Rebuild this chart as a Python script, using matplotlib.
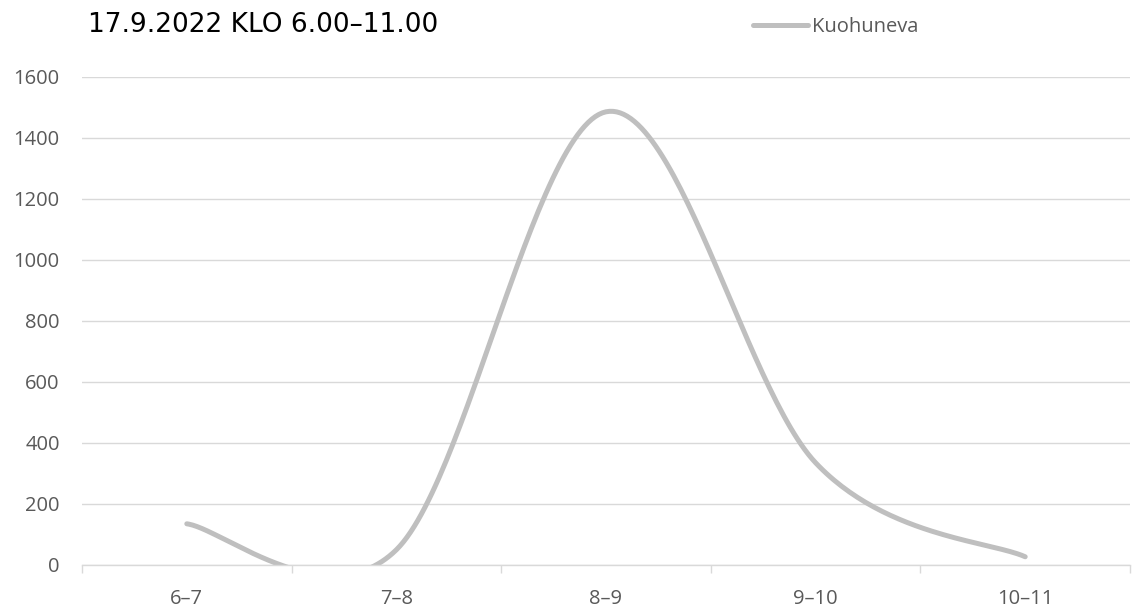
import numpy as np
from matplotlib import pyplot as plt

# Hourly counts at Kuohuneva, 17.9.2022
HOURS = ["6–7", "7–8", "8–9", "9–10", "10–11"]
KUOHUNEVA = [135, 50, 1485, 335, 27]

LINE_COLOUR = "#BFBFBF"
GRID_COLOUR = "#D9D9D9"
TEXT_COLOUR = "#595959"


def smooth_line(x, y, steps=60):
    # cubic Bezier through every point, control points from the neighbours
    # (the same kind of smoothing a spreadsheet "smoothed line" uses)
    x = np.asarray(x, float)
    y = np.asarray(y, float)
    n = len(x)
    xs, ys = [], []
    t = np.linspace(0, 1, steps)
    for i in range(n - 1):
        i0 = max(i - 1, 0)
        i3 = min(i + 2, n - 1)
        p1 = np.array([x[i], y[i]])
        p2 = np.array([x[i + 1], y[i + 1]])
        c1 = p1 + (p2 - np.array([x[i0], y[i0]])) / 6
        c2 = p2 - (np.array([x[i3], y[i3]]) - p1) / 6
        bx = ((1 - t)**3 * p1[0] + 3 * (1 - t)**2 * t * c1[0]
              + 3 * (1 - t) * t**2 * c2[0] + t**3 * p2[0])
        by = ((1 - t)**3 * p1[1] + 3 * (1 - t)**2 * t * c1[1]
              + 3 * (1 - t) * t**2 * c2[1] + t**3 * p2[1])
        xs.append(bx if i == 0 else bx[1:])
        ys.append(by if i == 0 else by[1:])
    return np.concatenate(xs), np.concatenate(ys)


fig = plt.figure(figsize=(11.32, 6.10), dpi=100)
ax = fig.add_axes([82 / 1132, 45 / 610, 1048 / 1132, 488.3 / 610])

pos = np.arange(len(HOURS))
sx, sy = smooth_line(pos, KUOHUNEVA)
ax.plot(sx, sy, color=LINE_COLOUR, lw=3.6, solid_capstyle="round",
        label="Kuohuneva")

ax.set_xlim(-0.5, len(HOURS) - 0.5)
ax.set_ylim(0, 1600)
ax.set_yticks(np.arange(0, 1601, 200))
ax.set_xticks(pos)
ax.set_xticklabels(HOURS)
ax.set_xticks(np.arange(-0.5, len(HOURS)), minor=True)

ax.grid(axis="y", color=GRID_COLOUR, lw=1.0)
ax.set_axisbelow(True)
for side in ["top", "right", "left"]:
    ax.spines[side].set_visible(False)
ax.spines["bottom"].set_color(GRID_COLOUR)
ax.spines["bottom"].set_linewidth(1.0)

ax.tick_params(axis="y", length=0, pad=16, labelsize=14.5,
               labelcolor=TEXT_COLOUR, labelfontfamily="Open Sans")
ax.tick_params(axis="x", which="major", length=0, pad=17, labelsize=14.5,
               labelcolor=TEXT_COLOUR, labelfontfamily="Open Sans")
ax.tick_params(axis="x", which="minor", length=6, width=1.0,
               color=GRID_COLOUR, direction="out")

fig.text(88 / 1132, 1 - 25 / 610, "17.9.2022 KLO 6.00–11.00",
         fontsize=19, color="black", va="center", ha="left",
         family="DejaVu Sans")

leg = fig.legend(loc="center left", bbox_to_anchor=(753 / 1132, 1 - 27 / 610),
                 frameon=False, borderpad=0, borderaxespad=0,
                 handlelength=2.75, handletextpad=0.2,
                 prop={"family": "Open Sans", "size": 14.5})
for txt in leg.get_texts():
    txt.set_color(TEXT_COLOUR)

fig.savefig("out.png", dpi=100)
